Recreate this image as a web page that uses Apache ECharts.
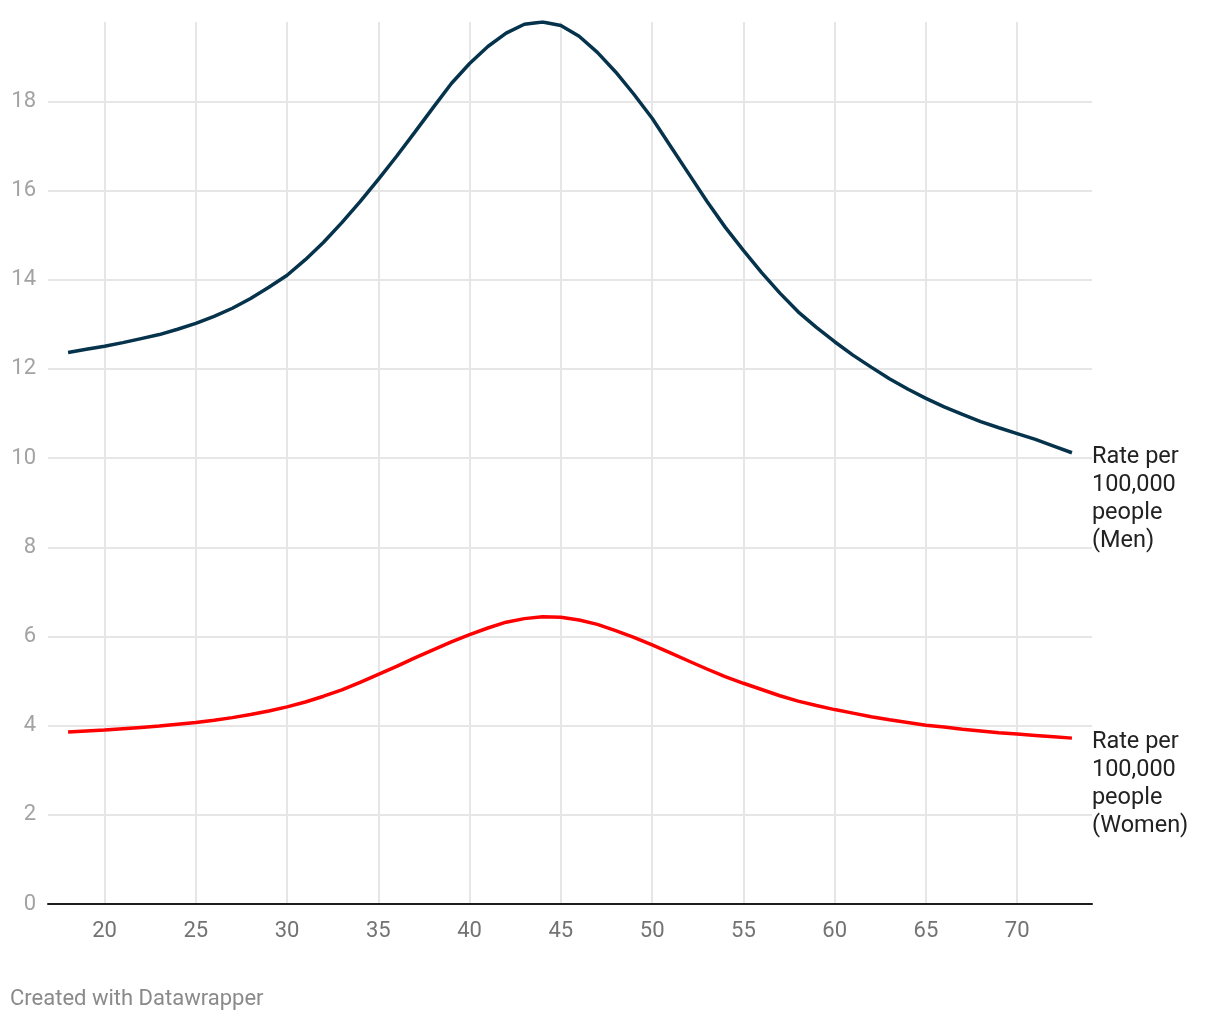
<!DOCTYPE html>
<html>
<head>
<meta charset="utf-8">
<script src="https://cdn.jsdelivr.net/npm/echarts@6/dist/echarts.min.js"></script>
<style>
html,body{margin:0;padding:0;background:#fff;}
#chart{width:1220px;height:1020px;}
</style>
</head>
<body>
<div id="chart"></div>
<script>
const ages = [18,19,20,21,22,23,24,25,26,27,28,29,30,31,32,33,34,35,36,37,38,39,40,41,42,43,44,45,46,47,48,49,50,51,52,53,54,55,56,57,58,59,60,61,62,63,64,65,66,67,68,69,70,71,72,73];
const menRate = [12.37,12.44,12.51,12.59,12.68,12.77,12.89,13.02,13.18,13.36,13.58,13.83,14.10,14.45,14.84,15.28,15.75,16.25,16.77,17.31,17.86,18.40,18.85,19.23,19.53,19.73,19.78,19.70,19.46,19.10,18.66,18.16,17.62,17.00,16.38,15.76,15.18,14.66,14.16,13.70,13.28,12.93,12.61,12.31,12.04,11.78,11.55,11.34,11.15,10.98,10.82,10.68,10.55,10.42,10.27,10.12];
const womenRate = [3.86,3.88,3.90,3.93,3.96,3.99,4.03,4.07,4.12,4.18,4.25,4.33,4.42,4.53,4.66,4.80,4.97,5.15,5.33,5.52,5.70,5.88,6.04,6.19,6.32,6.40,6.44,6.43,6.37,6.27,6.13,5.98,5.81,5.63,5.45,5.27,5.10,4.95,4.81,4.67,4.55,4.45,4.36,4.28,4.20,4.13,4.07,4.01,3.97,3.92,3.88,3.84,3.81,3.78,3.75,3.72];
const xTicks = [20,25,30,35,40,45,50,55,60,65,70];
const menLabel = "Rate per\n100,000\npeople\n(Men)";
const womenLabel = "Rate per\n100,000\npeople\n(Women)";
const footer = "Created with Datawrapper";

const chart = echarts.init(document.getElementById('chart'), null, {renderer:'canvas'});
const font = 'Roboto, "Noto Sans", sans-serif';
function pairs(vals){ return ages.map((a,i)=>[a, vals[i]]); }
function endLbl(text){
  return {
    show:true, formatter:text, color:'#222', fontSize:23.5, lineHeight:28,
    fontFamily:font, align:'left', verticalAlign:'top', distance:5, offset:[15,-10]
  };
}
chart.setOption({
  animation:false,
  backgroundColor:'#fff',
  grid:{left:48,right:128,top:22,bottom:116,containLabel:false},
  xAxis:{
    type:'value', min:16.9, max:74.1,
    axisLine:{show:true,onZero:false,lineStyle:{color:'#1d1d1d',width:2}},
    axisTick:{show:false,customValues:xTicks},
    axisLabel:{customValues:xTicks,color:'#737373',fontSize:22,fontFamily:font,margin:16},
    splitLine:{show:true,lineStyle:{color:'#e6e6e6',width:2}}
  },
  yAxis:{
    type:'value', min:0, max:19.78, interval:2,
    axisLine:{show:false}, axisTick:{show:false},
    axisLabel:{color:'#a3a3a3',fontSize:22,fontFamily:font,margin:12,showMaxLabel:false},
    splitLine:{show:true,showMaxLine:false,lineStyle:{color:'#e6e6e6',width:2}}
  },
  series:[
    {type:'line',name:'Men',data:pairs(menRate),showSymbol:false,smooth:false,
     lineStyle:{color:'#06334c',width:3.5},itemStyle:{color:'#06334c'},
     endLabel:endLbl(menLabel),z:3},
    {type:'line',name:'Women',data:pairs(womenRate),showSymbol:false,smooth:false,
     lineStyle:{color:'#ff0000',width:3.5},itemStyle:{color:'#ff0000'},
     endLabel:endLbl(womenLabel),z:3}
  ],
  graphic:[{type:'text',left:10,top:988,style:{text:footer,fill:'#8a8a8a',fontSize:22,fontFamily:font}}]
});
</script>
</body>
</html>
